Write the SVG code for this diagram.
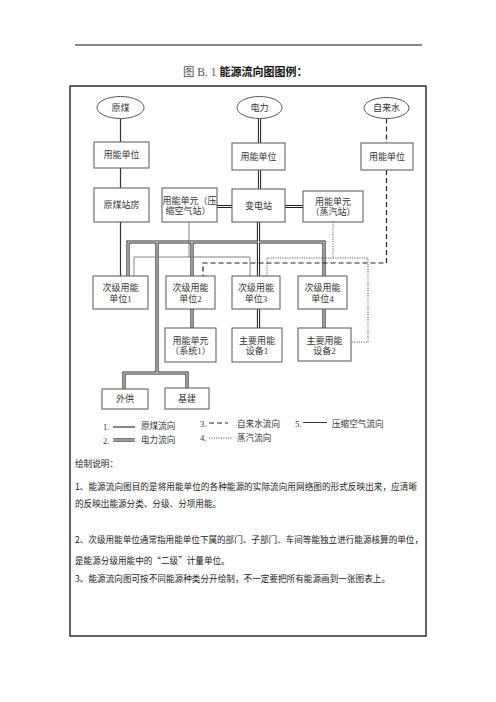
<svg xmlns="http://www.w3.org/2000/svg" width="496" height="702" viewBox="0 0 496 702">
<style>
.bx{fill:#fff;stroke:#555;stroke-width:1}
.el{fill:#fff;stroke:#555;stroke-width:1}
.t{font-family:"Liberation Serif","Noto Sans CJK SC",serif;font-size:9px;fill:#333;text-anchor:middle}
.lg{font-family:"Liberation Serif","Noto Sans CJK SC",serif;font-size:8.6px;fill:#333}
.d{font-family:"Noto Sans CJK SC",sans-serif;font-size:8.6px;fill:#222}
.coal{fill:none;stroke:#333;stroke-width:1.2}
.air{fill:none;stroke:#777;stroke-width:0.9}
.e1{fill:none;stroke:#222;stroke-width:3.2;stroke-linejoin:miter}
.e2{fill:none;stroke:#fff;stroke-width:1.1;stroke-linejoin:miter}
.wat{fill:none;stroke:#222;stroke-width:1.2;stroke-dasharray:5 3}
.stm{fill:none;stroke:#444;stroke-width:1;stroke-dasharray:1 1.4}
</style>
<rect x="0" y="0" width="496" height="702" fill="#fff"/>
<line x1="75" y1="45" x2="422" y2="45" stroke="#111" stroke-width="1"/>
<text x="183" y="76" font-family="Liberation Serif,Noto Sans CJK SC,serif" font-size="11.5" fill="#555">图 B. 1 <tspan font-family="Noto Sans CJK SC,sans-serif" font-weight="bold" font-size="11" fill="#111">能源流向图图例：</tspan></text>
<rect x="70" y="86" width="356" height="550" fill="none" stroke="#111" stroke-width="1.3"/>

<g id="connectors">
<g id="electric">
<path class="e1" d="M259.5 118V143M259.5 170V189M232 206.5H217M285 206.5H303M258.5 222V276M128 276V242H324V276M192 242V276M157 242V373M124 389V373H187V388M192 309V328M258.5 309V328M324 309V328"/>
<path class="e2" d="M259.5 118V143M259.5 170V189M232 206.5H217M285 206.5H303M258.5 222V276M128 276V242H324V276M192 242V276M157 242V373M124 389V373H187V388M192 309V328M258.5 309V328M324 309V328"/>
</g>
<path class="coal" d="M120.5 118.5V142M120.5 168V188M120.5 222V276"/>
<path class="air" d="M189 222V257M134 276V257H250V276"/>
<path class="wat" d="M386.5 118.5V143M386.5 170V263H203V276"/>
<path class="stm" d="M333 222V258M267 276V258H368V342H351"/>
</g>

<g id="n-yuanmei"><ellipse class="el" cx="120.5" cy="107.5" rx="23.5" ry="11"/><text class="t" x="120.5" y="110.5">原煤</text></g>
<g id="n-dianli"><ellipse class="el" cx="259.5" cy="107.5" rx="22.5" ry="11"/><text class="t" x="259.5" y="110.5">电力</text></g>
<g id="n-zilaishui"><ellipse class="el" cx="386.5" cy="108" rx="22.5" ry="10.5"/><text class="t" x="386.5" y="111">自来水</text></g>

<g id="n-yn1"><rect class="bx" x="94" y="142" width="55" height="26"/><text class="t" x="121.5" y="158">用能单位</text></g>
<g id="n-yn2"><rect class="bx" x="232" y="143" width="53" height="27"/><text class="t" x="258.5" y="159.5">用能单位</text></g>
<g id="n-yn3"><rect class="bx" x="361" y="143" width="52" height="27"/><text class="t" x="387" y="159.5">用能单位</text></g>

<g id="n-ymzf"><rect class="bx" x="94" y="188" width="55" height="34"/><text class="t" x="121.5" y="208">原煤站房</text></g>
<g id="n-ysk"><rect class="bx" x="162" y="188" width="55" height="34"/><text class="t" x="189.5" y="203.5" font-size="8.2">用能单元（压</text><text class="t" x="188" y="213.5" font-size="8.2">缩空气站）</text></g>
<g id="n-bdz"><rect class="bx" x="232" y="189" width="53" height="33"/><text class="t" x="258.5" y="209">变电站</text></g>
<g id="n-zqz"><rect class="bx" x="303" y="191" width="60" height="31"/><text class="t" x="333" y="205">用能单元</text><text class="t" x="333" y="215">（蒸汽站）</text></g>

<g id="n-cj1"><rect class="bx" x="93" y="276" width="55" height="33"/><text class="t" x="120.5" y="291">次级用能</text><text class="t" x="120.5" y="301.5">单位1</text></g>
<g id="n-cj2"><rect class="bx" x="166" y="276" width="49" height="33"/><text class="t" x="190.5" y="291">次级用能</text><text class="t" x="190.5" y="301.5">单位2</text></g>
<g id="n-cj3"><rect class="bx" x="232" y="276" width="48" height="33"/><text class="t" x="256" y="291">次级用能</text><text class="t" x="256" y="301.5">单位3</text></g>
<g id="n-cj4"><rect class="bx" x="298" y="276" width="49" height="33"/><text class="t" x="322.5" y="291">次级用能</text><text class="t" x="322.5" y="301.5">单位4</text></g>

<g id="n-xt1"><rect class="bx" x="165" y="328" width="51" height="34"/><text class="t" x="190.5" y="343.5">用能单元</text><text class="t" x="190.5" y="353.5">（系统1）</text></g>
<g id="n-sb1"><rect class="bx" x="232" y="328" width="50" height="34"/><text class="t" x="257" y="343.5">主要用能</text><text class="t" x="257" y="353.5">设备1</text></g>
<g id="n-sb2"><rect class="bx" x="298" y="328" width="53" height="33"/><text class="t" x="324.5" y="343.5">主要用能</text><text class="t" x="324.5" y="353.5">设备2</text></g>

<g id="n-waigong"><rect class="bx" x="102" y="389" width="46" height="20"/><text class="t" x="125" y="402">外供</text></g>
<g id="n-jijian"><rect class="bx" x="165" y="388" width="44" height="21"/><text class="t" x="187" y="401.5">基建</text></g>

<g id="legend">
<text class="lg" x="103" y="430">1.</text><line x1="113" y1="427" x2="135" y2="427" stroke="#333" stroke-width="1.2"/><text class="lg" x="141" y="429">原煤流向</text>
<text class="lg" x="103" y="443.5">2.</text><line x1="113" y1="440" x2="135" y2="440" stroke="#222" stroke-width="3.2"/><line x1="113" y1="440" x2="135" y2="440" stroke="#fff" stroke-width="1.1"/><text class="lg" x="141" y="443">电力流向</text>
<text class="lg" x="200" y="426.5">3.</text><line class="wat" x1="209" y1="423" x2="228" y2="423"/><text class="lg" x="237" y="426.5">自来水流向</text>
<text class="lg" x="200" y="441">4.</text><line class="stm" x1="209" y1="438" x2="232" y2="438"/><text class="lg" x="237" y="441">蒸汽流向</text>
<text class="lg" x="295" y="426.5">5.</text><line x1="303" y1="422.5" x2="327" y2="422.5" stroke="#333" stroke-width="1"/><text class="lg" x="332" y="426.5">压缩空气流向</text>
</g>

<g id="notes">
<text class="d" x="75" y="467">绘制说明：</text>
<text class="d" x="75" y="490" textLength="342" lengthAdjust="spacing">1、能源流向图目的是将用能单位的各种能源的实际流向用网络图的形式反映出来，应清晰</text>
<text class="d" x="75" y="507">的反映出能源分类、分级、分项用能。</text>
<text class="d" x="75" y="543" textLength="348" lengthAdjust="spacing">2、次级用能单位通常指用能单位下属的部门、子部门、车间等能独立进行能源核算的单位，</text>
<text class="d" x="75" y="564">是能源分级用能中的“二级”计量单位。</text>
<text class="d" x="75" y="582" textLength="315" lengthAdjust="spacing">3、能源流向图可按不同能源种类分开绘制，不一定要把所有能源画到一张图表上。</text>
</g>
</svg>
